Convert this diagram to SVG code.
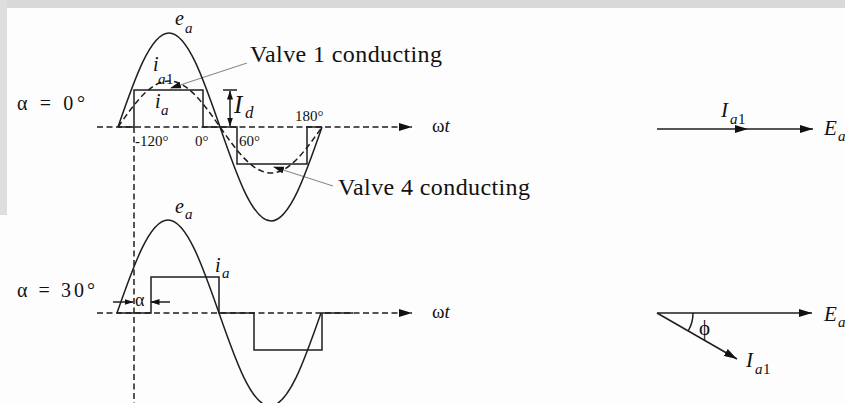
<svg xmlns="http://www.w3.org/2000/svg" width="845" height="403" viewBox="0 0 845 403">
<style>
.ln{fill:none;stroke:#1e1e1e;stroke-width:1.5}
.ds{fill:none;stroke:#1e1e1e;stroke-width:1.5;stroke-dasharray:6 3.5}
.lead{fill:none;stroke:#8a8a8a;stroke-width:1.1}
.t{font-family:"Liberation Serif","DejaVu Serif",serif;fill:#111}
.i{font-family:"Liberation Serif","DejaVu Serif",serif;font-style:italic;fill:#111}
</style>
<defs>
<marker id="ah" markerUnits="userSpaceOnUse" markerWidth="14" markerHeight="8" refX="13" refY="4" orient="auto"><path d="M0,0 L13,4 L0,8 z" fill="#111"/></marker>
<marker id="sa" markerUnits="userSpaceOnUse" markerWidth="9" markerHeight="6" refX="8.5" refY="3" orient="auto-start-reverse"><path d="M0,0 L9,3 L0,6 z" fill="#111"/></marker>
<marker id="la" markerUnits="userSpaceOnUse" markerWidth="11" markerHeight="7" refX="10" refY="3.5" orient="auto"><path d="M0,0 L11,3.5 L0,7 z" fill="#111"/></marker>
</defs>
<rect x="0" y="0" width="845" height="403" fill="#fdfdfd"/>
<rect x="0" y="0" width="845" height="8" fill="#d9d9d9"/>
<rect x="0" y="0" width="7" height="215" fill="#dedede"/>

<g id="connectors">
  <line class="ds" x1="97" y1="127" x2="412" y2="127" marker-end="url(#ah)"/>
  <line class="ds" x1="97" y1="313" x2="412" y2="313" marker-end="url(#ah)"/>
  <line class="ds" x1="134" y1="127" x2="134" y2="403" stroke-dasharray="6 4"/>
  <line class="lead" x1="247" y1="63" x2="171" y2="88" marker-end="url(#la)"/>
  <line class="lead" x1="333" y1="186" x2="274" y2="167" marker-end="url(#la)"/>
  <line class="ln" x1="223" y1="90" x2="237" y2="90" stroke-width="1.2"/>
  <line class="ln" x1="230" y1="91" x2="230" y2="126" stroke-width="1.2" marker-start="url(#sa)" marker-end="url(#sa)"/>
  <line class="ln" x1="113" y1="302" x2="133" y2="302" stroke-width="1.1" marker-end="url(#sa)"/>
  <line class="ln" x1="170" y1="302" x2="151" y2="302" stroke-width="1.1" marker-end="url(#sa)"/>
</g>

<g id="wave-top">
  <path class="ln" d="M118,127 C134.63,78.84 150.54,33 169,33 C187.46,33 203.37,78.84 220,127 C236.63,175.16 252.54,221 271,221 C289.46,221 305.37,175.16 322,127"/>
  <path class="ds" stroke-dasharray="5 3" d="M118,127 C134.63,103.43 150.54,81 169,81 C187.46,81 203.37,103.43 220,127 C236.63,150.57 252.54,173 271,173 C289.46,173 305.37,150.57 322,127"/>
  <polyline class="ln" points="118,127 134,127 134,90 203,90 203,127 237,127 237,164 307,164 307,127 322,127"/>
</g>

<g id="wave-bottom">
  <path class="ln" d="M117,313 C133.63,265.34 149.54,220 168,220 C186.46,220 202.37,265.34 219,313 C235.63,360.66 251.54,406 270,406 C288.46,406 304.37,360.66 321,313"/>
  <polyline class="ln" points="117,313 151,313 151,277 219,277 219,313 254,313 254,350 322,350 322,313 353,313"/>
</g>

<g id="labels-top">
  <text class="t" x="17" y="110" font-size="20" textLength="68">α = 0°</text>
  <text class="i" x="175" y="25" font-size="20">e</text>
  <text class="i" x="185" y="33" font-size="15">a</text>
  <text class="i" x="153" y="71" font-size="20">i</text>
  <text class="i" x="158" y="84" font-size="15">a</text>
  <text class="t" x="166" y="84" font-size="15">1</text>
  <text class="i" x="155" y="108" font-size="20">i</text>
  <text class="i" x="161" y="115" font-size="15">a</text>
  <text class="i" x="234" y="113" font-size="25">I</text>
  <text class="i" x="245" y="118" font-size="17">d</text>
  <text class="t" x="250" y="62" font-size="24" textLength="192">Valve 1 conducting</text>
  <text class="t" x="338" y="195" font-size="24" textLength="192">Valve 4 conducting</text>
  <text class="t" x="135" y="146" font-size="15">-120°</text>
  <text class="t" x="195" y="146" font-size="15">0°</text>
  <text class="t" x="239" y="146" font-size="15">60°</text>
  <text class="t" x="295" y="121" font-size="15">180°</text>
  <text class="t" x="432" y="132" font-size="19">ω<tspan class="i">t</tspan></text>
</g>

<g id="labels-bottom">
  <text class="t" x="17" y="297" font-size="20" textLength="78">α = 30°</text>
  <text class="i" x="175" y="213" font-size="20">e</text>
  <text class="i" x="185" y="219" font-size="15">a</text>
  <text class="i" x="215" y="272" font-size="20">i</text>
  <text class="i" x="222" y="278" font-size="15">a</text>
  <text class="t" x="135" y="306" font-size="18">α</text>
  <text class="t" x="432" y="318" font-size="19">ω<tspan class="i">t</tspan></text>
</g>

<g id="phasor-top">
  <line class="ln" x1="657" y1="129" x2="748" y2="129" marker-end="url(#ah)"/>
  <line class="ln" x1="748" y1="129" x2="813" y2="129" marker-end="url(#ah)"/>
  <text class="i" x="721" y="117" font-size="21">I</text>
  <text class="i" x="730" y="124" font-size="15">a</text>
  <text class="t" x="738" y="124" font-size="15">1</text>
  <text class="i" x="824" y="135" font-size="21">E</text>
  <text class="i" x="838" y="141" font-size="15">a</text>
</g>

<g id="phasor-bottom">
  <line class="ln" x1="657" y1="313" x2="812" y2="313" marker-end="url(#ah)"/>
  <line class="ln" x1="657" y1="313" x2="737" y2="359" marker-end="url(#ah)"/>
  <path class="ln" stroke-width="1.2" d="M693,313 A36,36 0 0 1 688.2,331"/>
  <text class="t" x="699" y="335" font-size="21">ϕ</text>
  <text class="i" x="824" y="321" font-size="21">E</text>
  <text class="i" x="838" y="327" font-size="15">a</text>
  <text class="i" x="746" y="367" font-size="21">I</text>
  <text class="i" x="755" y="374" font-size="15">a</text>
  <text class="t" x="763" y="374" font-size="15">1</text>
</g>
</svg>
